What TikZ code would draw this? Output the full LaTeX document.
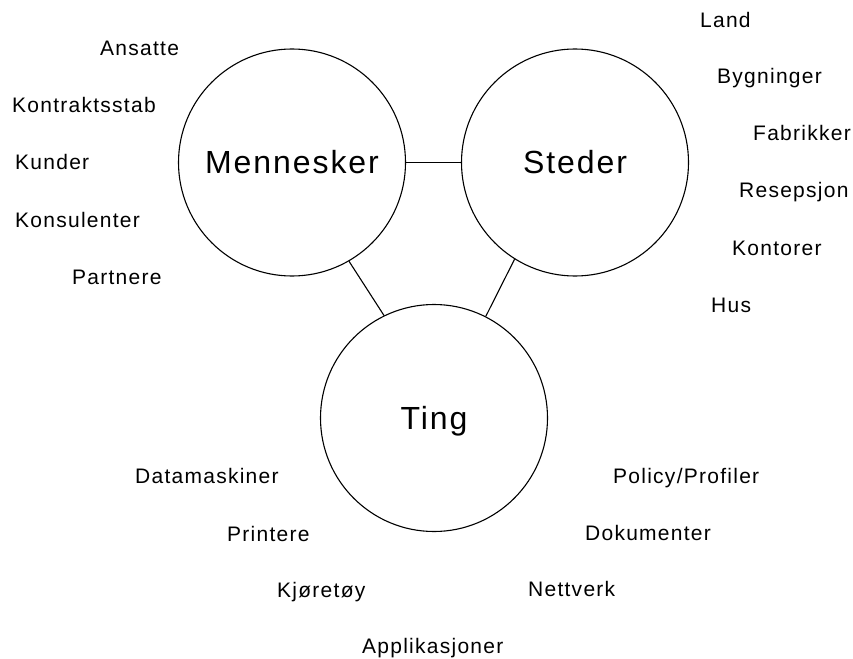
\documentclass[tikz,border=0pt]{standalone}
\usepackage{fontspec}
\setmainfont{Liberation Sans}
\newfontfamily\itemfont[LetterSpace=6]{Liberation Sans}
\begin{document}
\begin{tikzpicture}[x=1pt,y=-1pt,
  hub/.style={draw,line width=1.1pt,circle,minimum size=227pt,inner sep=0pt,
    text height=22pt,text depth=0pt,font=\itemfont\fontsize{32}{36}\selectfont},
  item/.style={anchor=base west,inner sep=0pt,font=\itemfont\fontsize{21}{24}\selectfont},
  link/.style={line width=1.1pt}]
\useasboundingbox (0,0) rectangle (853,658);

% the three main areas
\node[hub] (men) at (292,162.5) {Mennesker};
\node[hub] (ste) at (575,162.5) {Steder};
\node[hub] (ting) at (434,418) {Ting};

\draw[link] (men.east) -- (ste.west);
\draw[link] (men.-60) -- (ting.116);
\draw[link] (ste.-122) -- (ting.63);

% people
\node[item] (m1) at (100,56) {Ansatte};
\node[item] (m2) at (12,113) {Kontraktsstab};
\node[item] (m3) at (15,169) {Kunder};
\node[item] (m4) at (15,227) {Konsulenter};
\node[item] (m5) at (72,284) {Partnere};

% places
\node[item] (s1) at (700,28) {Land};
\node[item] (s2) at (717,84) {Bygninger};
\node[item] (s3) at (753,140) {Fabrikker};
\node[item] (s4) at (739,197) {Resepsjon};
\node[item] (s5) at (732,255) {Kontorer};
\node[item] (s6) at (711,312) {Hus};

% things
\node[item] (t1) at (135,483) {Datamaskiner};
\node[item] (t2) at (227,541) {Printere};
\node[item] (t3) at (277,597) {Kjøretøy};
\node[item] (t4) at (362,653) {Applikasjoner};
\node[item] (t5) at (528,596) {Nettverk};
\node[item] (t6) at (585,540) {Dokumenter};
\node[item] (t7) at (613,483) {Policy/Profiler};
\end{tikzpicture}
\end{document}
